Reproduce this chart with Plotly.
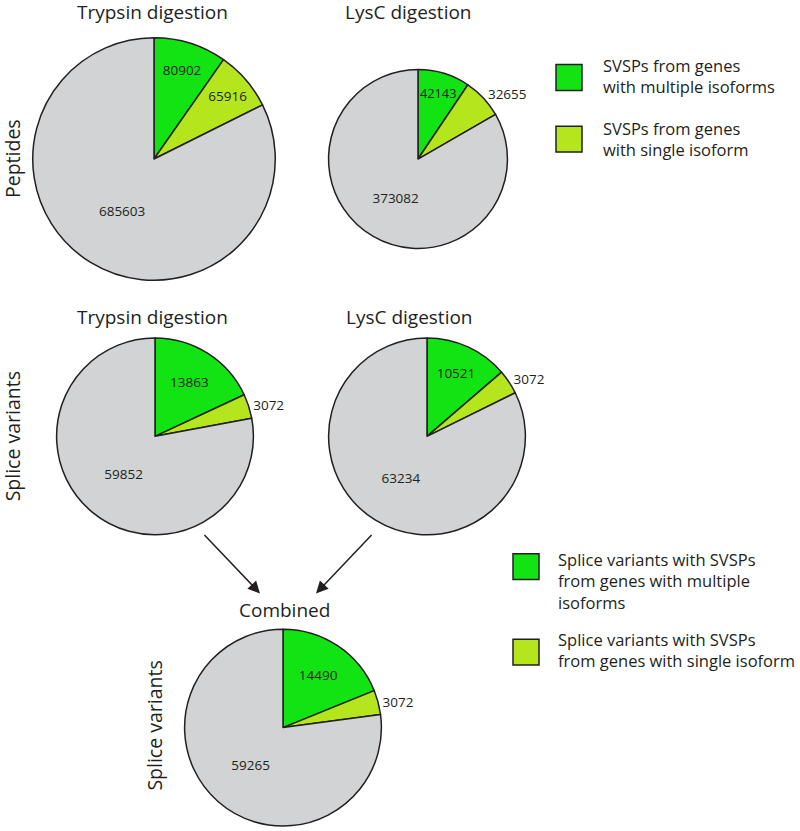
import plotly.graph_objects as go

W, H = 800, 831

# data
slice_names = ["SVSPs multiple isoforms", "SVSPs single isoform", "Other"]
trypsin_peptides = [80902, 65916, 685603]
lysc_peptides = [42143, 32655, 373082]
trypsin_splice = [13863, 3072, 59852]
lysc_splice = [10521, 3072, 63234]
combined_splice = [14490, 3072, 59265]

colors = ["#12e312", "#b5e61d", "#d1d3d4"]
ink = "#231f20"
FONT = "Open Sans"


def fx(x):
    return x / W


def fy(y):
    return 1 - y / H


def dom(cx, cy, r):
    return dict(x=[fx(cx - r), fx(cx + r)], y=[fy(cy + r), fy(cy - r)])


def pie(values, cx, cy, r, pos):
    return go.Pie(
        labels=slice_names, values=values, sort=False, direction="clockwise",
        rotation=0, domain=dom(cx, cy, r), textinfo="value", textposition=pos,
        insidetextorientation="horizontal",
        texttemplate="%{value:d}",
        textfont=dict(family=FONT, size=13.5, color=ink),
        marker=dict(colors=colors, line=dict(color=ink, width=1.5)),
        showlegend=False, hoverinfo="label+value",
    )


fig = go.Figure()
fig.add_trace(pie(trypsin_peptides, 154, 160, 122, ["inside", "inside", "inside"]))
fig.add_trace(pie(lysc_peptides, 418, 160, 90, ["inside", "outside", "inside"]))
fig.add_trace(pie(trypsin_splice, 155, 439, 99, ["inside", "outside", "inside"]))
fig.add_trace(pie(lysc_splice, 427, 439, 99, ["inside", "outside", "inside"]))
fig.add_trace(pie(combined_splice, 283, 732, 99, ["inside", "outside", "inside"]))

ann = []


def text(x, y, s, size=19, angle=0, anchor="center"):
    ann.append(dict(x=fx(x), y=fy(y), xref="paper", yref="paper", text=s,
                    showarrow=False, textangle=angle, xanchor=anchor, yanchor="middle",
                    align="left", font=dict(family=FONT, size=size, color=ink)))


text(152, 12, "Trypsin digestion")
text(408, 12, "LysC digestion")
text(152, 319, "Trypsin digestion")
text(409, 319, "LysC digestion")
text(284, 614, "Combined")
text(12, 160, "Peptides", size=19.5, angle=-90)
text(12, 439, "Splice variants", size=19.5, angle=-90)
text(155, 730, "Splice variants", size=19.5, angle=-90)

# legends
text(601, 76, "SVSPs from genes<br>with multiple isoforms", size=16.5, anchor="left")
text(601, 140, "SVSPs from genes<br>with single isoform", size=16.5, anchor="left")
text(556, 585, "Splice variants with SVSPs<br>from genes with multiple<br>isoforms", size=16.5, anchor="left")
text(556, 654, "Splice variants with SVSPs<br>from genes with single isoform", size=16.5, anchor="left")

shapes = []


def swatch(x0, y0, c, s=26):
    shapes.append(dict(type="rect", xref="paper", yref="paper",
                       x0=fx(x0), x1=fx(x0 + s), y0=fy(y0 + s), y1=fy(y0),
                       fillcolor=c, line=dict(color=ink, width=1.5)))


swatch(556, 65, colors[0])
swatch(556, 127, colors[1])
swatch(513, 557, colors[0])
swatch(513, 643, colors[1])

# arrows
for (x0, y0, x1, y1) in [(203, 537, 260, 597), (373, 537, 316, 597)]:
    ann.append(dict(x=fx(x1), y=fy(y1), ax=x0 - x1, ay=y0 - y1,
                    xref="paper", yref="paper", axref="pixel", ayref="pixel",
                    text="", showarrow=True, arrowhead=2, arrowsize=1.6,
                    arrowwidth=1.5, arrowcolor=ink))

fig.update_layout(width=W, height=H, margin=dict(l=0, r=0, t=0, b=0),
                  paper_bgcolor="white", plot_bgcolor="white",
                  annotations=ann, shapes=shapes, font=dict(family=FONT))

# drop the default 8px body margin so the figure fills the window
fig.write_html("out.html", config={"displayModeBar": False},
               post_script="document.body.style.margin='0px';")
